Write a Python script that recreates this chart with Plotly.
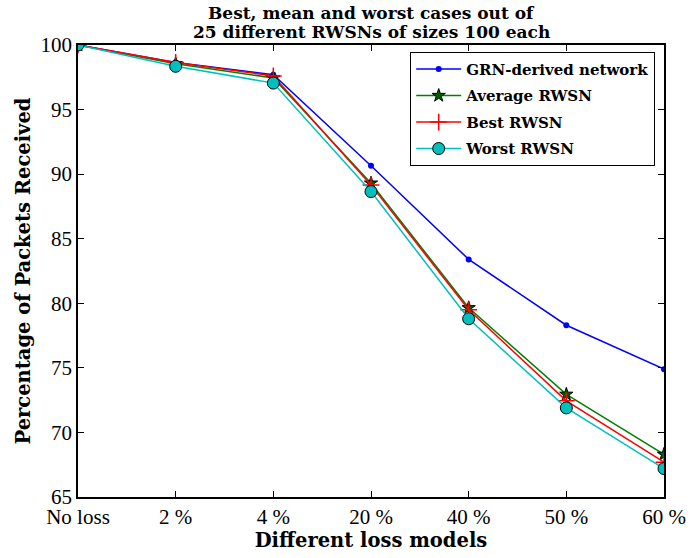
import plotly.graph_objects as go

categories = ["No loss", "2 %", "4 %", "20 %", "40 %", "50 %", "60 %"]
grn = [100.0, 98.65, 97.7, 90.65, 83.4, 78.3, 74.9]
average = [100.0, 98.55, 97.45, 89.3, 79.65, 72.95, 68.3]
best = [100.0, 98.65, 97.6, 89.15, 79.5, 72.45, 67.7]
worst = [100.0, 98.35, 97.05, 88.65, 78.8, 71.9, 67.2]
y_ticks = [65, 70, 75, 80, 85, 90, 95, 100]
title_lines = ["Best, mean and worst cases out of", "25 different RWSNs of sizes 100 each"]

xs = list(range(len(categories)))
SERIF = "Liberation Serif"
BOLD = "DejaVu Serif"

fig = go.Figure()
fig.add_trace(go.Scatter(x=xs, y=grn, name="<b>GRN-derived network</b>", mode="lines+markers",
                         legendgroup="a",
                         line=dict(color="#0000ff", width=1.5),
                         marker=dict(symbol="circle", size=6, color="#0000ff")))
fig.add_trace(go.Scatter(x=xs, y=average, name="<b>Average RWSN</b>", mode="lines+markers",
                         legendgroup="b",
                         line=dict(color="#008000", width=1.5),
                         marker=dict(symbol="star", size=10, color="#006000",
                                     line=dict(color="black", width=1))))
fig.add_trace(go.Scatter(x=xs, y=best, name="<b>Best RWSN</b>", mode="lines+markers",
                         legendgroup="c",
                         line=dict(color="#ff0000", width=1.5),
                         marker=dict(symbol="cross-thin", size=12,
                                     line=dict(color="#ff0000", width=1.5))))
fig.add_trace(go.Scatter(x=xs, y=worst, name="<b>Worst RWSN</b>", mode="lines+markers",
                         legendgroup="d",
                         line=dict(color="#00bfbf", width=1.5),
                         marker=dict(symbol="circle", size=12, color="#00bfbf",
                                     line=dict(color="black", width=1))))

for i, line in enumerate(title_lines):
    fig.add_annotation(text="<b>" + line + "</b>", xref="paper", yref="paper",
                       x=0.5, y=1, yanchor="bottom", yshift=20 - 19 * i,
                       showarrow=False, font=dict(family=BOLD, size=17, color="black"))

fig.update_layout(
    width=698, height=558,
    margin=dict(l=78, r=25, t=45, b=53),
    paper_bgcolor="white", plot_bgcolor="white",
    font=dict(family=SERIF, color="black"),
    showlegend=True,
    legend=dict(x=0.985, xanchor="right", y=0.985, yanchor="top",
                bgcolor="white", bordercolor="black", borderwidth=1,
                font=dict(family=BOLD, size=15, color="black"),
                itemwidth=45, tracegroupgap=4),
)
fig.update_xaxes(
    range=[0, 6], tickvals=xs, ticktext=categories,
    showline=True, linecolor="black", linewidth=1.5, mirror="ticks",
    ticks="inside", ticklen=6, tickcolor="black", showgrid=False, zeroline=False,
    tickfont=dict(family=SERIF, size=21, color="black"),
    title=dict(text="<b>Different loss models</b>", standoff=3,
               font=dict(family=BOLD, size=19.5, color="black")),
)
fig.update_yaxes(
    range=[65, 100], tickvals=y_ticks,
    showline=True, linecolor="black", linewidth=1.5, mirror="ticks",
    ticks="inside", ticklen=6, tickcolor="black", showgrid=False, zeroline=False,
    tickfont=dict(family=SERIF, size=21, color="black"),
    title=dict(text="<b>Percentage of Packets Received</b>", standoff=5,
               font=dict(family=BOLD, size=19.5, color="black")),
)

fig.write_html("out.html")
